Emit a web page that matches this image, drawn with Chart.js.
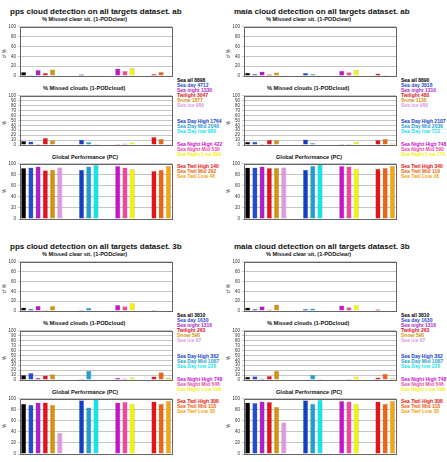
<!DOCTYPE html>
<html>
<head>
<meta charset="utf-8">
<script src="https://cdn.jsdelivr.net/npm/chart.js@4"></script>
<style>
  body { margin: 0; background: #fff; width: 447px; height: 462px; overflow: hidden; position: relative; font-family: "Liberation Sans", Arial, sans-serif; }
  canvas { position: absolute; }
  .t { position: absolute; white-space: nowrap; color: #111; line-height: 1; }
  .title { font-size: 8px; font-weight: bold; }
  .sub { font-size: 5.6px; font-weight: bold; }
  .yl { font-size: 4.5px; transform: rotate(-90deg); transform-origin: left top; }
  .leg { font-size: 5px; font-weight: bold; }
</style>
</head>
<body>
<script>
// series (one bar each) in drawing order
const seriesNames = ['Sea all', 'Sea day', 'Sea night', 'Twilight', 'Snow', 'Sea ice',
  'Sea Day High', 'Sea Day Mid', 'Sea Day low',
  'Sea Night High', 'Sea Night Mid', 'Sea Night Low',
  'Sea Twil High', 'Sea Twil Mid', 'Sea Twil Low'];
const seriesColors = ['#000000', '#1f4fd0', '#b21fc4', '#e3121c', '#d4930f', '#e197e0',
  '#1240c4', '#1e9fd3', '#14e4ee',
  '#c413c8', '#f0489f', '#f2f20f',
  '#e31414', '#ef6414', '#f5a414'];

// pps, dataset ab
const ppsAbClear = [8, 2, 12, 6, 13, 0.5, 3.5, 1, 0.5, 15, 10, 16, 4, 8, 0.5];
const ppsAbCloud = [8, 7, 2, 14, 9, 0, 10.5, 6, 2, 2, 3, 5, 16, 12, 2];
const ppsAbPC = [92, 93, 95, 88, 89, 93, 89, 95, 98, 96, 93, 90, 87, 89, 96];
const ppsAbCounts = [8898, 4712, 1330, 3047, 1877, 989, 1764, 2040, 980, 422, 530, 390, 140, 262, 48];

// maia, dataset ab
const maiaAbClear = [6.5, 4, 9, 3.5, 7, 0.3, 6, 4, 1, 10.5, 7.5, 12, 5, 2, 0.3];
const maiaAbCloud = [6.5, 6.5, 2.5, 10, 9.5, 0, 11, 4, 1, 2, 2, 6, 10, 12, 3];
const maiaAbPC = [93, 93, 95, 92, 92, 93, 89, 96, 99, 96, 95, 91, 91, 92, 96];
const maiaAbCounts = [8890, 3818, 1316, 480, 1130, 989, 2107, 2036, 722, 748, 590, 170, 340, 119, 38];

// pps, dataset 3b
const pps3bClear = [7, 4.5, 10.5, 2, 10, 0, 2.5, 6.5, 0.3, 12, 9.5, 16.5, 2.5, 0, 0];
const pps3bCloud = [10, 14, 4.5, 9, 11.5, 0, 2.3, 19, 1, 4.5, 3, 5, 7, 15.5, 4];
const pps3bPC = [91, 89, 93, 93, 89, 38, 97, 84, 99, 93, 94, 91, 95, 91, 96];
const pps3bCounts = [3810, 1630, 1316, 263, 590, 97, 362, 1087, 226, 748, 546, 199, 308, 118, 38];

// maia, dataset 3b
const maia3bClear = [7, 4, 9.5, 3, 13, 0, 4, 5, 0.3, 11, 7.7, 12.5, 3.5, 1.2, 0];
const maia3bCloud = [6.5, 7.5, 3, 8, 19, 0, 1.7, 10, 2.3, 1.7, 2.3, 6.5, 5, 12.5, 3.5];
const maia3bPC = [93, 92, 95, 94, 85, 57, 97, 91, 98, 96, 95, 91, 95, 91, 96];
const maia3bCounts = [3810, 1630, 1316, 263, 590, 97, 362, 1087, 226, 748, 546, 199, 308, 118, 38];

const panels = [
  { x: 0, y: 0, title: 'pps cloud detection on all targets dataset. ab', clear: ppsAbClear, cloud: ppsAbCloud, pc: ppsAbPC, counts: ppsAbCounts },
  { x: 224, y: 0, title: 'maia cloud detection on all targets dataset. ab', clear: maiaAbClear, cloud: maiaAbCloud, pc: maiaAbPC, counts: maiaAbCounts },
  { x: 0, y: 235, title: 'pps cloud detection on all targets dataset. 3b', clear: pps3bClear, cloud: pps3bCloud, pc: pps3bPC, counts: pps3bCounts },
  { x: 224, y: 235, title: 'maia cloud detection on all targets dataset. 3b', clear: maia3bClear, cloud: maia3bCloud, pc: maia3bPC, counts: maia3bCounts }
];

// bar slots: 6 + gap + 3 + gap + 3 + gap + 3
const slotIndex = [0, 1, 2, 3, 4, 5, 8, 9, 10, 13, 14, 15, 18, 19, 20];
const NSLOT = 21;
function toSlots(vals, empty) {
  const a = new Array(NSLOT).fill(empty);
  vals.forEach((v, i) => a[slotIndex[i]] = v);
  return a;
}

const boxPlugin = {
  id: 'box',
  afterDraw(chart) {
    const a = chart.chartArea, c = chart.ctx;
    c.save();
    c.strokeStyle = '#666';
    c.lineWidth = 1;
    c.strokeRect(Math.round(a.left) + 0.5, Math.round(a.top) + 0.5, Math.round(a.right - a.left), Math.round(a.bottom - a.top));
    c.restore();
  }
};

function addText(cls, txt, x, y, color) {
  const d = document.createElement('div');
  d.className = 't ' + cls;
  d.textContent = txt;
  d.style.left = x + 'px';
  d.style.top = y + 'px';
  if (color) d.style.color = color;
  document.body.appendChild(d);
  return d;
}

function makeBars(left, top, values, step, withLabels) {
  const cv = document.createElement('canvas');
  const w = 175, h = withLabels ? 67 : 61;
  cv.width = w; cv.height = h;
  cv.style.left = left + 'px';
  cv.style.top = top + 'px';
  document.body.appendChild(cv);
  const labels = withLabels ? toSlots(values.map(v => String(Math.round(v))), '') : new Array(NSLOT).fill('');
  new Chart(cv.getContext('2d'), {
    type: 'bar',
    data: {
      labels: labels,
      datasets: [{
        data: toSlots(values, null),
        backgroundColor: toSlots(seriesColors, '#fff'),
        borderColor: 'rgba(0,0,0,0.35)',
        borderWidth: 0.5,
        barPercentage: 0.72,
        categoryPercentage: 1
      }]
    },
    options: {
      responsive: false,
      animation: false,
      events: [],
      layout: { padding: { left: 0, right: 3, top: 3, bottom: 1 } },
      plugins: { legend: { display: false }, tooltip: { enabled: false } },
      scales: {
        x: {
          display: withLabels,
          grid: { display: false },
          border: { display: false },
          ticks: { padding: 1, autoSkip: false, maxRotation: 0, color: '#222', font: { size: 4.5, weight: 'bold', family: 'Liberation Sans' } },
          afterFit(s) { s.height = 6; }
        },
        y: {
          min: 0, max: 100,
          grid: { color: '#c6c6c6', lineWidth: 1, drawTicks: true, tickLength: 2 },
          border: { display: false },
          ticks: { stepSize: step, autoSkip: false, padding: 2, color: '#333', font: { size: 4.5, family: 'Liberation Sans' } },
          afterFit(s) { s.width = 20; }
        }
      }
    },
    plugins: [boxPlugin]
  });
}

const legendY = [78, 83, 88, 93, 98, 103, 119, 124, 129, 142, 147, 152, 164, 169, 174];

panels.forEach(p => {
  addText('title', p.title, p.x + 10, p.y + 8);
  addText('sub', '% Missed clear sit. (1-PODclear)', p.x + 42, p.y + 17);
  addText('sub', '% Missed clouds (1-PODcloud)', p.x + 43, p.y + 86);
  addText('sub', 'Global Performance (PC)', p.x + 52, p.y + 155);
  addText('yl', 'cf %', p.x + 3, p.y + 58);
  addText('yl', '%', p.x + 3, p.y + 125);
  addText('yl', '%', p.x + 3, p.y + 193);

  makeBars(p.x, p.y + 22, p.clear, 20, false);
  makeBars(p.x, p.y + 91, p.cloud, 10, false);
  makeBars(p.x, p.y + 159, p.pc, 20, true);

  seriesNames.forEach((n, i) => {
    addText('leg', n + '  ' + p.counts[i], p.x + 177, p.y + legendY[i], seriesColors[i]);
  });
});
</script>
</body>
</html>
